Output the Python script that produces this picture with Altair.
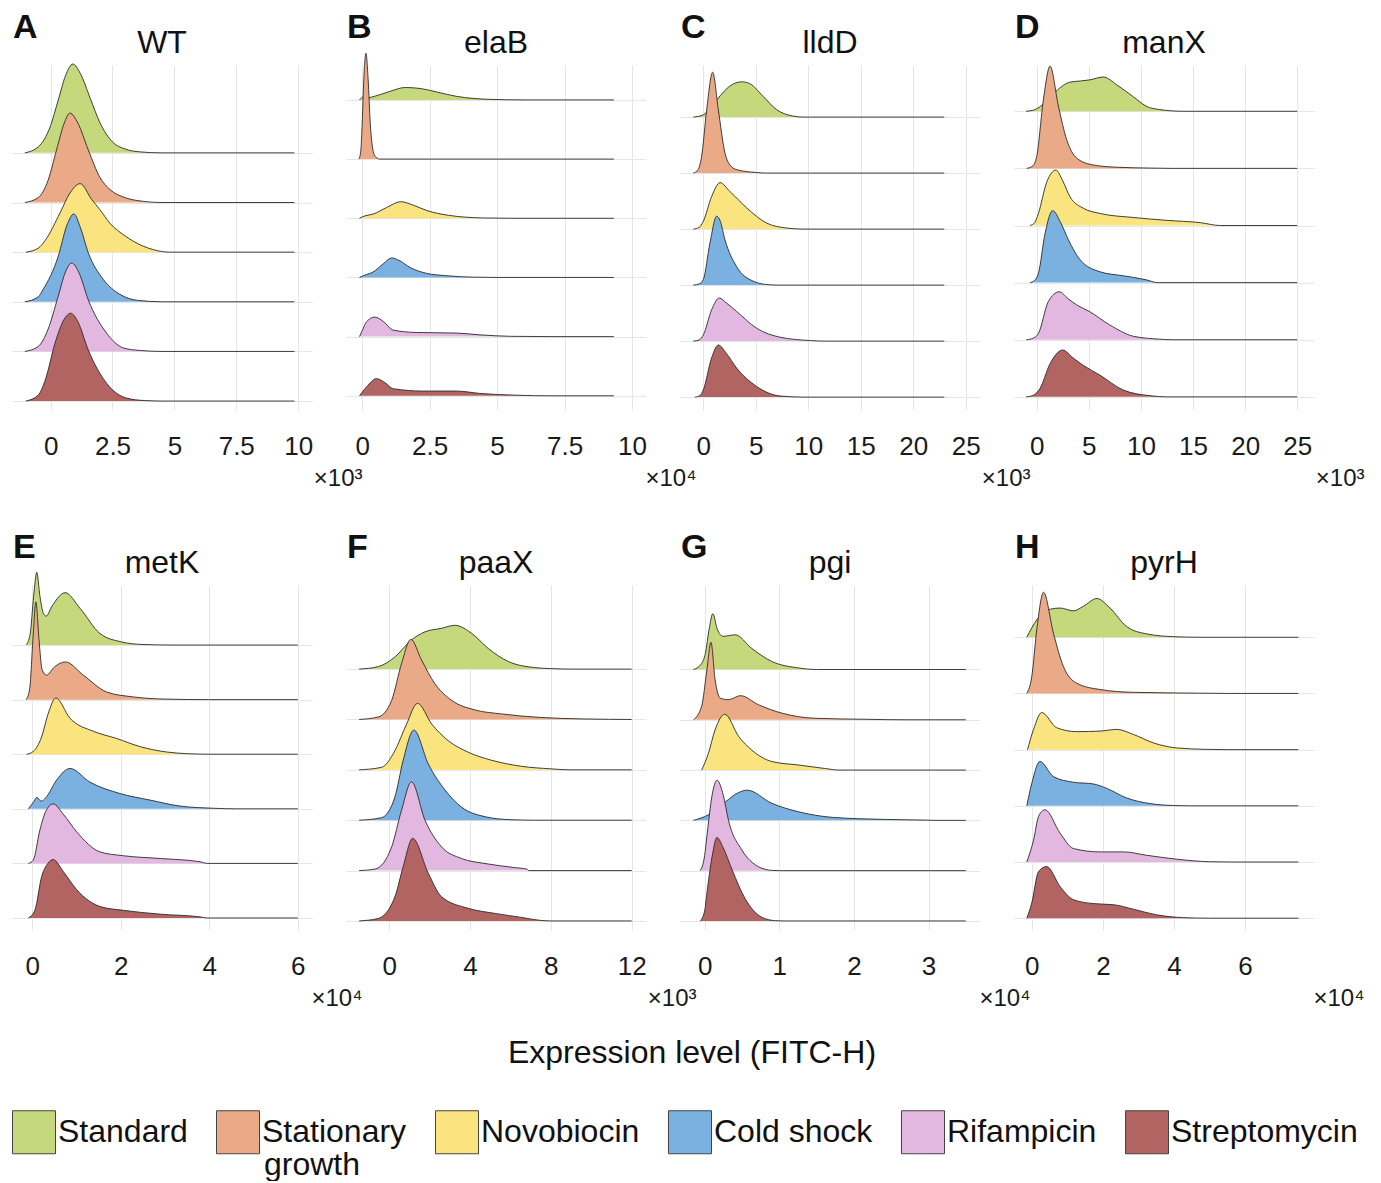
import altair as alt
import pandas as pd

FONT = "Liberation Sans"
GRID = "#e6e6e6"
LINE = "#2a2a2a"

CONDITIONS = ["Standard", "Stationary growth", "Novobiocin", "Cold shock", "Rifampicin", "Streptomycin"]
COLORS = ["#c6d87c", "#eaa987", "#f9e47f", "#7ab1e0", "#e3b8e0", "#b26462"]

LETTERS = ["A", "B", "C", "D", "E", "F", "G", "H"]
GENES = ["WT", "elaB", "lldD", "manX", "metK", "paaX", "pgi", "pyrH"]
EXPONENTS = ["×10³", "×10⁴", "×10³", "×10³", "×10⁴", "×10³", "×10⁴", "×10⁴"]
TICKS = [
    [0, 2.5, 5, 7.5, 10],
    [0, 2.5, 5, 7.5, 10],
    [0, 5, 10, 15, 20, 25],
    [0, 5, 10, 15, 20, 25],
    [0, 2, 4, 6],
    [0, 4, 8, 12],
    [0, 1, 2, 3],
    [0, 2, 4, 6],
]
X_DOMAINS = [
    [-1.56, 10.56], [-0.60, 10.52], [-2.22, 26.35], [-2.18, 26.61],
    [-0.46, 6.32], [-2.14, 12.71], [-0.33, 3.69], [-0.50, 7.94],
]
Y_DOMAINS = [
    [-0.18, 6.77], [-0.24, 5.59], [-0.23, 5.93], [-0.23, 5.81],
    [-0.22, 6.10], [-0.18, 6.67], [-0.18, 6.68], [-0.21, 5.93],
]

# density curves: (expression values, ridge height in row units)
WT = {
    "Standard": ([-1.04, -0.5, 0, 0.3, 0.6, 0.9, 1.2, 1.6, 2.0, 2.5, 3.0, 3.6, 4.5, 9.85],
                 [0, 0.12, 0.55, 1.05, 1.55, 1.79, 1.6, 1.1, 0.6, 0.22, 0.08, 0.02, 0, 0]),
    "Stationary growth": ([-1.04, -0.5, -0.1, 0.24, 0.55, 0.78, 1.1, 1.52, 2.0, 2.4, 3.0, 3.5, 4.5, 9.85],
                          [0, 0.1, 0.45, 1.06, 1.6, 1.8, 1.6, 1.06, 0.5, 0.26, 0.1, 0.04, 0, 0]),
    "Novobiocin": ([-1.0, -0.5, -0.2, 0.38, 0.78, 1.19, 1.66, 2.0, 2.4, 3.0, 3.34, 4.15, 4.8, 9.85],
                   [0, 0.08, 0.25, 0.79, 1.19, 1.38, 1.06, 0.85, 0.58, 0.33, 0.22, 0.05, 0, 0]),
    "Cold shock": ([-1.04, -0.5, -0.3, 0.31, 0.65, 0.94, 1.2, 1.52, 2.13, 2.8, 3.5, 4.5, 9.85],
                   [0, 0.1, 0.25, 0.92, 1.53, 1.77, 1.5, 0.99, 0.45, 0.15, 0.03, 0, 0]),
    "Rifampicin": ([-1.04, -0.5, -0.1, 0.3, 0.6, 0.85, 1.15, 1.52, 2.26, 2.94, 3.6, 4.5, 9.85],
                   [0, 0.1, 0.45, 1.1, 1.6, 1.78, 1.58, 1.04, 0.37, 0.07, 0.02, 0, 0]),
    "Streptomycin": ([-1.0, -0.5, -0.2, 0.18, 0.55, 0.81, 1.1, 1.52, 2.26, 3.07, 3.8, 4.5, 9.85],
                     [0, 0.12, 0.45, 1.17, 1.65, 1.77, 1.6, 1.03, 0.36, 0.06, 0.01, 0, 0]),
}
ELAB = {
    "Standard": ([-0.1, 0.05, 0.25, 0.45, 1.0, 1.6, 2.2, 2.8, 3.5, 4.7, 6, 9.33],
                 [0, 0.05, 0.04, 0.06, 0.14, 0.21, 0.19, 0.13, 0.06, 0.01, 0, 0]),
    "Stationary growth": ([-0.12, -0.05, 0.0, 0.06, 0.14, 0.22, 0.3, 0.4, 0.5, 0.65, 9.33],
                          [0, 0.15, 0.6, 1.35, 1.79, 1.35, 0.6, 0.15, 0.04, 0, 0]),
    "Novobiocin": ([-0.1, 0.1, 0.4, 0.9, 1.43, 1.9, 2.4, 3.2, 4.5, 5.5, 9.33],
                   [0, 0.04, 0.07, 0.18, 0.28, 0.22, 0.13, 0.05, 0.005, 0, 0]),
    "Cold shock": ([-0.1, 0.1, 0.4, 0.78, 1.09, 1.4, 1.77, 2.38, 3.1, 4.1, 5, 9.33],
                   [0, 0.04, 0.09, 0.23, 0.33, 0.28, 0.17, 0.07, 0.03, 0.005, 0, 0]),
    "Rifampicin": ([-0.1, 0.0, 0.16, 0.47, 0.8, 1.15, 2.0, 3.5, 4.36, 5.5, 7, 9.33],
                   [0, 0.1, 0.25, 0.33, 0.25, 0.11, 0.07, 0.06, 0.03, 0.005, 0, 0]),
    "Streptomycin": ([-0.1, 0.0, 0.16, 0.53, 0.85, 1.15, 2.26, 3.5, 4.36, 5.7, 7, 9.33],
                     [0, 0.06, 0.15, 0.29, 0.22, 0.12, 0.08, 0.08, 0.04, 0.01, 0, 0]),
}
LLDD = {
    "Standard": ([-0.95, 0, 0.8, 1.6, 2.5, 3.65, 4.4, 5.7, 7.0, 8.5, 9.5, 22.95],
                 [0, 0.04, 0.2, 0.38, 0.55, 0.63, 0.6, 0.37, 0.13, 0.02, 0, 0]),
    "Stationary growth": ([-0.95, -0.5, -0.16, 0.32, 0.89, 1.43, 2.06, 2.6, 3.2, 5.1, 6, 22.95],
                          [0, 0.06, 0.3, 1.13, 1.8, 1.13, 0.36, 0.13, 0.06, 0.01, 0, 0]),
    "Novobiocin": ([-0.95, -0.4, 0, 0.79, 1.59, 2.54, 4.13, 6.0, 7.9, 9.5, 22.95],
                   [0, 0.03, 0.14, 0.58, 0.83, 0.67, 0.38, 0.11, 0.02, 0, 0]),
    "Cold shock": ([-0.95, -0.4, 0, 0.63, 1.27, 1.6, 2.06, 3.17, 4.76, 6.3, 7, 22.95],
                   [0, 0.02, 0.1, 0.75, 1.23, 1.15, 0.81, 0.33, 0.07, 0.005, 0, 0]),
    "Rifampicin": ([-0.95, -0.4, 0, 0.79, 1.52, 2.2, 3.17, 5.08, 7.3, 10.2, 11.5, 22.95],
                   [0, 0.02, 0.11, 0.56, 0.77, 0.68, 0.53, 0.23, 0.07, 0.01, 0, 0]),
    "Streptomycin": ([-0.8, -0.3, 0, 0.79, 1.43, 2.2, 3.17, 5.08, 7.3, 9.5, 22.95],
                     [0, 0.03, 0.13, 0.7, 0.93, 0.78, 0.52, 0.19, 0.02, 0, 0]),
}
MANX = {
    "Standard": ([-1.02, -0.3, 0.32, 1.6, 3.2, 4.2, 5.1, 6.4, 7.7, 9.3, 10.5, 11.8, 14, 25],
                 [0, 0.02, 0.08, 0.31, 0.51, 0.53, 0.55, 0.6, 0.46, 0.25, 0.09, 0.03, 0, 0]),
    "Stationary growth": ([-0.96, -0.4, 0, 0.64, 1.28, 2.08, 2.88, 3.84, 5.4, 7.7, 11, 13, 25],
                          [0, 0.04, 0.21, 1.2, 1.79, 1.09, 0.5, 0.18, 0.06, 0.02, 0.005, 0, 0]),
    "Novobiocin": ([-0.64, -0.2, 0.16, 0.96, 1.85, 2.5, 3.2, 4.5, 6.1, 9.3, 12.5, 15.7, 17.6, 25],
                   [0, 0.05, 0.21, 0.76, 0.97, 0.78, 0.5, 0.3, 0.21, 0.14, 0.09, 0.05, 0.0, 0]),
    "Cold shock": ([-0.64, -0.2, 0.16, 0.8, 1.53, 2.3, 3.04, 4.16, 6.07, 8.3, 10.5, 11.6, 25],
                   [0, 0.04, 0.16, 0.86, 1.26, 1.05, 0.75, 0.4, 0.19, 0.12, 0.05, 0, 0]),
    "Rifampicin": ([-1.0, -0.3, 0.16, 1.12, 2.17, 3.0, 3.84, 5.1, 7.0, 9.3, 11.8, 13, 25],
                   [0, 0.03, 0.11, 0.67, 0.84, 0.72, 0.61, 0.49, 0.26, 0.06, 0.01, 0, 0]),
    "Streptomycin": ([-1.0, -0.3, 0.32, 1.28, 2.49, 3.5, 4.48, 6.07, 8.3, 10.9, 12.5, 25],
                     [0, 0.03, 0.15, 0.58, 0.82, 0.68, 0.55, 0.38, 0.12, 0.02, 0, 0]),
}
METK = {
    "Standard": ([-0.14, -0.05, 0.03, 0.1, 0.17, 0.25, 0.31, 0.45, 0.74, 1.08, 1.53, 2.0, 2.5, 3.2, 6],
                 [0, 0.2, 0.9, 1.33, 0.9, 0.58, 0.53, 0.72, 0.96, 0.67, 0.21, 0.06, 0.01, 0, 0]),
    "Stationary growth": ([-0.14, -0.06, 0.02, 0.08, 0.15, 0.22, 0.32, 0.5, 0.75, 1.15, 1.68, 2.28, 3.0, 4, 6],
                          [0, 0.2, 1.2, 1.79, 1.1, 0.55, 0.45, 0.6, 0.69, 0.45, 0.14, 0.05, 0.01, 0, 0]),
    "Novobiocin": ([-0.13, 0.02, 0.21, 0.36, 0.53, 0.85, 1.38, 1.9, 2.43, 3.04, 3.5, 4, 6],
                   [0, 0.05, 0.32, 0.75, 1.03, 0.66, 0.42, 0.29, 0.14, 0.04, 0.01, 0, 0]),
    "Cold shock": ([-0.09, 0.04, 0.1, 0.2, 0.3, 0.55, 0.85, 1.3, 1.98, 2.66, 3.34, 4.1, 4.6, 6],
                   [0, 0.14, 0.21, 0.14, 0.2, 0.53, 0.74, 0.49, 0.28, 0.16, 0.05, 0.01, 0, 0]),
    "Rifampicin": ([-0.09, 0.02, 0.17, 0.3, 0.47, 0.7, 1.0, 1.53, 2.06, 2.89, 3.79, 3.95, 6],
                   [0, 0.06, 0.61, 0.95, 1.09, 0.9, 0.58, 0.21, 0.14, 0.09, 0.03, 0, 0]),
    "Streptomycin": ([-0.09, 0.06, 0.21, 0.35, 0.47, 0.7, 1.0, 1.53, 2.06, 2.89, 3.79, 3.95, 6],
                     [0, 0.15, 0.76, 1.0, 1.07, 0.85, 0.52, 0.21, 0.14, 0.07, 0.02, 0, 0]),
}
PAAX = {
    "Standard": ([-1.49, -0.54, 0.28, 1.1, 1.77, 2.59, 3.25, 4.08, 4.9, 5.9, 7.2, 8.0, 9, 12],
                 [0, 0.05, 0.24, 0.58, 0.74, 0.81, 0.87, 0.71, 0.41, 0.15, 0.03, 0.01, 0, 0]),
    "Stationary growth": ([-1.49, -0.54, 0.12, 0.61, 1.07, 1.6, 2.26, 3.09, 4.24, 5.56, 7.5, 9.7, 12],
                          [0, 0.05, 0.38, 1.11, 1.59, 1.18, 0.71, 0.38, 0.19, 0.11, 0.04, 0.01, 0]),
    "Novobiocin": ([-1.49, -0.38, 0.28, 0.86, 1.4, 2.1, 2.92, 3.91, 5.07, 6.55, 8.0, 8.9, 12],
                   [0, 0.05, 0.38, 0.91, 1.32, 0.91, 0.58, 0.35, 0.19, 0.07, 0.02, 0, 0]),
    "Cold shock": ([-1.49, -0.38, 0.28, 0.69, 1.22, 1.93, 2.76, 3.58, 4.74, 6.0, 7.2, 12],
                   [0, 0.05, 0.46, 1.19, 1.79, 1.12, 0.6, 0.26, 0.07, 0.01, 0, 0]),
    "Rifampicin": ([-1.49, -0.7, 0.12, 0.61, 1.1, 1.77, 2.59, 3.58, 4.74, 6.2, 6.8, 6.9, 12],
                   [0, 0.03, 0.47, 1.2, 1.76, 1.0, 0.47, 0.24, 0.14, 0.06, 0.03, 0, 0]),
    "Streptomycin": ([-1.49, -0.54, 0.28, 0.69, 1.16, 1.93, 2.59, 3.91, 5.23, 6.55, 7.5, 8, 12],
                     [0, 0.05, 0.48, 1.08, 1.64, 0.95, 0.48, 0.25, 0.15, 0.07, 0.01, 0, 0]),
}
PGI = {
    "Standard": ([-0.15, -0.05, 0.01, 0.06, 0.11, 0.17, 0.25, 0.41, 0.63, 0.9, 1.26, 1.5, 3.5],
                 [0, 0.1, 0.32, 0.8, 1.11, 0.8, 0.66, 0.69, 0.42, 0.16, 0.03, 0, 0]),
    "Stationary growth": ([-0.15, -0.04, 0.03, 0.085, 0.14, 0.21, 0.32, 0.48, 0.72, 1.04, 1.48, 2.15, 2.7, 3.5],
                          [0, 0.27, 0.99, 1.54, 0.8, 0.43, 0.4, 0.48, 0.3, 0.13, 0.03, 0.01, 0, 0]),
    "Novobiocin": ([-0.04, 0.05, 0.14, 0.27, 0.46, 0.63, 0.9, 1.26, 1.62, 1.8, 3.5],
                   [0, 0.33, 0.8, 1.11, 0.66, 0.4, 0.17, 0.1, 0.03, 0, 0]),
    "Cold shock": ([-0.15, 0.05, 0.28, 0.45, 0.57, 0.9, 1.26, 1.71, 2.38, 2.96, 3.1, 3.5],
                   [0, 0.11, 0.37, 0.55, 0.6, 0.34, 0.17, 0.06, 0.02, 0.005, 0, 0]),
    "Rifampicin": ([-0.06, 0.0, 0.03, 0.1, 0.165, 0.25, 0.32, 0.5, 0.72, 0.9, 1.0, 3.5],
                   [0, 0.3, 0.68, 1.5, 1.8, 1.5, 1.0, 0.41, 0.08, 0.005, 0, 0]),
    "Streptomycin": ([-0.06, 0.0, 0.03, 0.1, 0.165, 0.25, 0.37, 0.54, 0.77, 0.95, 1.05, 3.5],
                     [0, 0.2, 0.55, 1.28, 1.66, 1.45, 1.01, 0.45, 0.07, 0.005, 0, 0]),
}
PYRH = {
    "Standard": ([-0.14, 0.14, 0.52, 0.8, 1.17, 1.45, 1.83, 2.2, 2.67, 3.23, 4.0, 4.7, 7.5],
                 [0, 0.31, 0.5, 0.52, 0.47, 0.55, 0.69, 0.52, 0.19, 0.06, 0.01, 0, 0]),
    "Stationary growth": ([-0.14, 0.0, 0.14, 0.33, 0.61, 0.89, 1.27, 1.92, 2.86, 4.7, 5.5, 7.5],
                          [0, 0.3, 1.13, 1.8, 1.07, 0.48, 0.18, 0.07, 0.02, 0.005, 0, 0]),
    "Novobiocin": ([-0.12, 0.05, 0.28, 0.7, 1.27, 1.92, 2.39, 2.86, 3.42, 4.08, 4.9, 5.5, 7.5],
                   [0, 0.36, 0.66, 0.39, 0.32, 0.33, 0.36, 0.27, 0.12, 0.03, 0.005, 0, 0]),
    "Cold shock": ([-0.14, 0.0, 0.23, 0.61, 1.17, 1.73, 2.11, 2.67, 3.33, 4.0, 4.5, 7.5],
                   [0, 0.4, 0.79, 0.52, 0.42, 0.39, 0.31, 0.14, 0.04, 0.005, 0, 0]),
    "Rifampicin": ([-0.14, 0.05, 0.19, 0.37, 0.8, 1.17, 1.92, 2.58, 3.23, 4.08, 5.0, 5.6, 7.5],
                   [0, 0.39, 0.81, 0.93, 0.51, 0.24, 0.18, 0.18, 0.12, 0.05, 0.005, 0, 0]),
    "Streptomycin": ([-0.14, 0.0, 0.19, 0.42, 0.8, 1.17, 1.73, 2.3, 2.86, 3.51, 4.26, 5, 7.5],
                     [0, 0.27, 0.83, 0.92, 0.56, 0.33, 0.26, 0.24, 0.16, 0.06, 0.01, 0, 0]),
}
CURVES = [WT, ELAB, LLDD, MANX, METK, PAAX, PGI, PYRH]

PANEL_W, PANEL_H = 300, 345

# the long legend label is wrapped: first line in the legend, second line set beneath it
legend = alt.Legend(
    orient="none", legendX=0, legendY=1045, direction="horizontal", columns=6,
    title=None, symbolType="square", symbolSize=1849, symbolStrokeColor="#444444",
    symbolStrokeWidth=1, symbolOpacity=1, labelFontSize=32, labelFont=FONT,
    labelColor="#111111", labelOffset=2, columnPadding=26, padding=0, labelLimit=0,
    labelExpr="datum.label == 'Stationary growth' ? 'Stationary' : datum.label",
)


def make_panel(i):
    xscale = alt.Scale(domain=X_DOMAINS[i], nice=False, zero=False)
    yscale = alt.Scale(domain=Y_DOMAINS[i], nice=False, zero=False)
    xaxis = alt.Axis(
        values=TICKS[i], format=".2~f", grid=True, gridColor=GRID, domain=False,
        ticks=False, tickSize=0, labelFontSize=26, labelFont=FONT, labelColor="#1a1a1a",
        labelPadding=23, labelFlush=False, labelOverlap=False,
        title=EXPONENTS[i], titleFont=FONT, titleFontSize=24, titleFontWeight="normal",
        titleColor="#1a1a1a", titleX=350, titleY=75, titleAlign="right",
        titleBaseline="alphabetic", titleAngle=0,
    )
    yaxis = alt.Axis(values=[0, 1, 2, 3, 4, 5], grid=True, gridColor=GRID, domain=False,
                     ticks=False, labels=False, title=None)
    layers = []
    n = len(CONDITIONS)
    for j, cond in enumerate(CONDITIONS):
        xs, hs = CURVES[i][cond]
        k = n - 1 - j
        df = pd.DataFrame({
            "x": xs,
            "top": [k + h for h in hs],
            "base": [k] * len(xs),
            "condition": [cond] * len(xs),
        })
        base = alt.Chart(df)
        if i == 0:
            color = alt.Color("condition:N",
                              scale=alt.Scale(domain=CONDITIONS, range=COLORS),
                              legend=legend)
        else:
            color = alt.value(COLORS[j])
        area = base.mark_area(interpolate="monotone", opacity=1).encode(
            x=alt.X("x:Q", scale=xscale, axis=xaxis),
            y=alt.Y("top:Q", scale=yscale, axis=yaxis),
            y2="base:Q",
            color=color,
        )
        line = base.mark_line(interpolate="monotone", color=LINE, strokeWidth=0.9).encode(
            x=alt.X("x:Q", scale=xscale, axis=xaxis),
            y=alt.Y("top:Q", scale=yscale, axis=yaxis),
        )
        layers += [area, line]

    gene = alt.Chart(pd.DataFrame({"t": [GENES[i]]})).mark_text(
        align="center", baseline="alphabetic", font=FONT, fontSize=32, color="#111111"
    ).encode(text="t:N", x=alt.value(PANEL_W / 2), y=alt.value(-12))
    letter = alt.Chart(pd.DataFrame({"t": [LETTERS[i]]})).mark_text(
        align="left", baseline="alphabetic", font=FONT, fontSize=34, fontWeight="bold",
        color="#111111"
    ).encode(text="t:N", x=alt.value(1), y=alt.value(-27))
    layers += [gene, letter]
    if i == 4:
        wrap = alt.Chart(pd.DataFrame({"t": ["growth"]})).mark_text(
            align="left", baseline="alphabetic", font=FONT, fontSize=32, color="#111111"
        ).encode(text="t:N", x=alt.value(252), y=alt.value(590))
        layers.append(wrap)
    if i == 5:
        xlabel = alt.Chart(pd.DataFrame({"t": ["Expression level (FITC-H)"]})).mark_text(
            align="center", baseline="alphabetic", font=FONT, fontSize=32, color="#111111"
        ).encode(text="t:N", x=alt.value(346), y=alt.value(478))
        layers.append(xlabel)
    return alt.layer(*layers).properties(width=PANEL_W, height=PANEL_H)


panels = [make_panel(i) for i in range(8)]
chart = alt.concat(
    *panels, columns=4, spacing={"row": 175, "column": 34}, bounds="flush"
).resolve_scale(x="independent", y="independent").properties(
    padding={"left": 12, "top": 11, "right": 5, "bottom": 0},
    background="white",
).configure_view(strokeWidth=0)

chart.save("out.html", embed_options={"renderer": "svg", "actions": False})
